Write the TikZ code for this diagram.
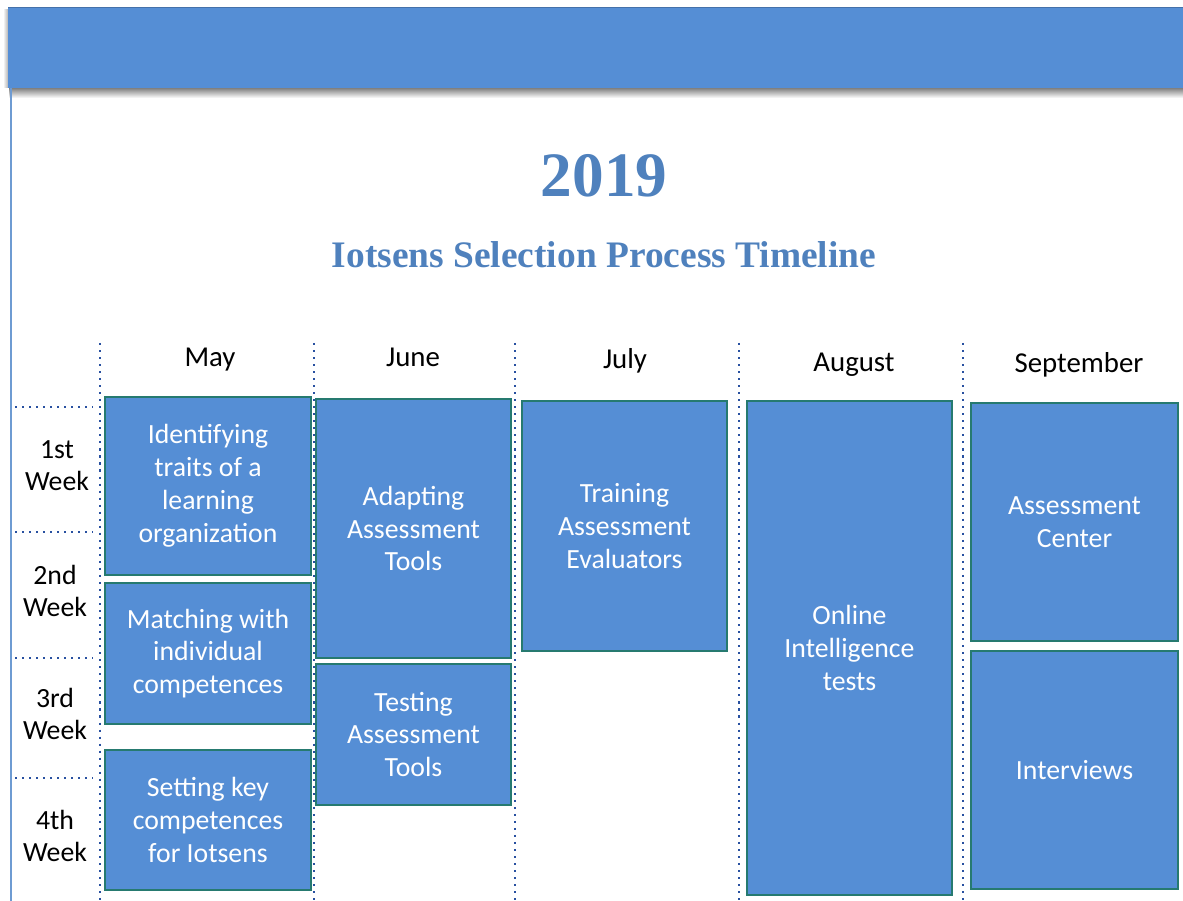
\documentclass[tikz,border=0pt]{standalone}
\usepackage{fontspec}
\setmainfont{Carlito}
\newfontfamily\titlefont{Liberation Serif}
\definecolor{boxblue}{RGB}{85,142,213}
\definecolor{boxedge}{RGB}{38,122,112}
\definecolor{titleblue}{RGB}{79,129,189}
\definecolor{gridblue}{RGB}{40,80,160}
\definecolor{railblue}{RGB}{110,155,210}
\begin{document}
\begin{tikzpicture}[x=0.02cm,y=-0.02cm,
		taskbox/.style={draw=boxedge,line width=1.1pt,fill=boxblue,text=white,align=center,inner sep=0pt,font=\fontsize{15.8}{18.7}\selectfont},
		gridline/.style={gridblue,line width=1.2pt,dash pattern=on 1.2pt off 2.8pt},
		month/.style={anchor=base,font=\fontsize{16.4}{18.7}\selectfont},
		week/.style={align=center,font=\fontsize{15.8}{18.1}\selectfont}]
		\def\px{0.02cm}
		\useasboundingbox (0,0) rectangle (1183,901);
		% banner
		\shade[top color=black!50,bottom color=white] (9,88) rectangle (1183,98);
		\shade[left color=white,right color=black!30] (3,10) rectangle (8,88);
		\fill[boxblue] (8,7) rectangle (1183,88);
		\draw[boxblue!80!black,line width=0.5pt] (8,7) -- (1183,7);
		\draw[railblue,line width=1pt] (11,88) -- (11,901);
		% titles
		\node[anchor=base,text=titleblue,font=\titlefont\bfseries\fontsize{36}{40}\selectfont] (year) at (604,197) {2019};
		\node[anchor=base,text=titleblue,font=\titlefont\bfseries\fontsize{21.3}{24}\selectfont] (subtitle) at (604,268) {Iotsens Selection Process Timeline};
		% grid
		\foreach \gx in {100,314,515,739,963}
			\draw[gridline] (\gx,343) -- (\gx,901);
		\foreach \gy in {407,532,658,778}
			\draw[gridline] (15,\gy) -- (93,\gy);
		% months
		\node[month] (may) at (210,367) {May};
		\node[month] (june) at (413,367) {June};
		\node[month] (july) at (625,369) {July};
		\node[month] (aug) at (854,372) {August};
		\node[month] (sep) at (1079,373) {September};
		% weeks
		\node[week] (w1) at (57,466) {1st\\Week};
		\node[week] (w2) at (55,591) {2nd\\Week};
		\node[week] (w3) at (55,714) {3rd\\Week};
		\node[week] (w4) at (55,836) {4th\\Week};
		% tasks
		\node[taskbox,minimum width=206*\px,minimum height=178*\px] (ident) at (208,486) {Identifying\\traits of a\\learning\\organization};
		\node[taskbox,minimum width=206*\px,minimum height=141*\px] (match) at (208,653.5) {Matching with\\individual\\competences};
		\node[taskbox,minimum width=206*\px,minimum height=140*\px] (setkey) at (208,820) {Setting key\\competences\\for Iotsens};
		\node[taskbox,minimum width=195*\px,minimum height=259*\px] (adapt) at (413.5,528.5) {Adapting\\Assessment\\Tools};
		\node[taskbox,minimum width=195*\px,minimum height=141*\px] (testing) at (413.5,734.5) {Testing\\Assessment\\Tools};
		\node[taskbox,minimum width=205*\px,minimum height=250*\px] (train) at (624.5,526) {Training\\Assessment\\Evaluators};
		\node[taskbox,minimum width=205*\px,minimum height=494*\px] (online) at (849.5,648) {Online\\Intelligence\\tests};
		\node[taskbox,minimum width=207*\px,minimum height=238*\px] (center) at (1074.5,522) {Assessment\\Center};
		\node[taskbox,minimum width=207*\px,minimum height=238*\px] (interv) at (1074.5,770) {Interviews};
	\end{tikzpicture}
\end{document}
